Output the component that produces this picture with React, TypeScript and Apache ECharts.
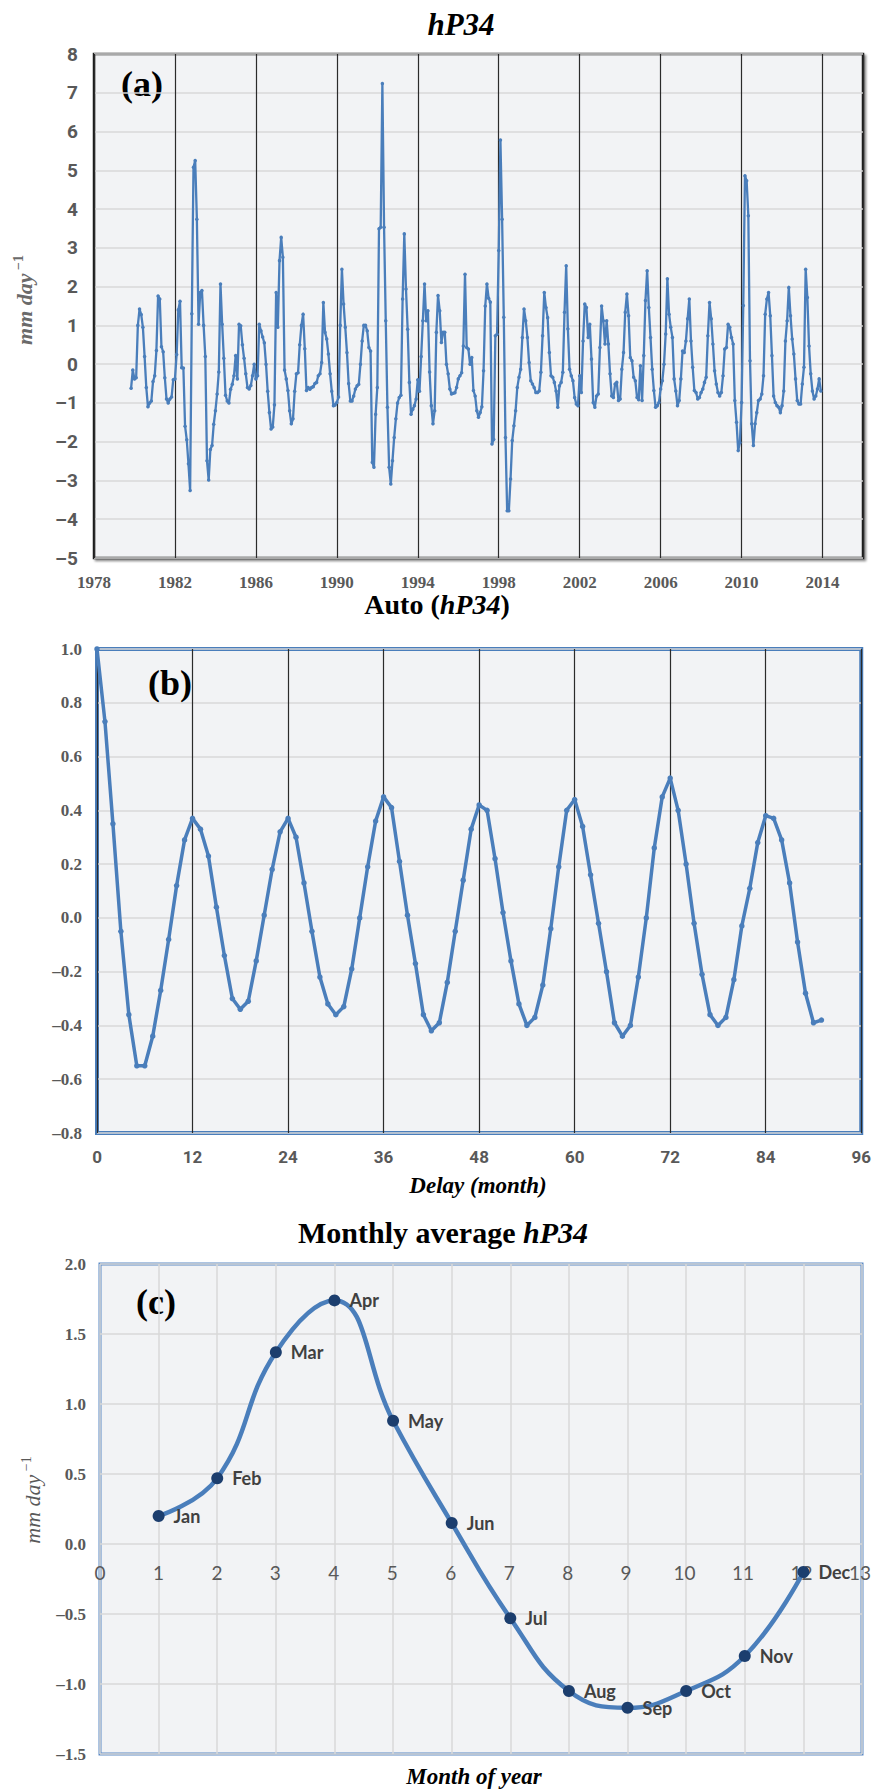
import React, { useEffect, useRef } from 'react';
import * as echarts from 'echarts';

// ---------- DATA ----------
// (a) monthly hP34 anomaly (mm/day), Nov 1979 .. Dec 2013
const hp34StartYear = 1979;
const hp34StartMonth = 11;
const hp34Monthly = [
  -0.62, -0.15, -0.38, -0.35, 1.0, 1.42, 1.28, 0.95, 0.2, -0.6, -1.1, -1.0, -0.95, -0.45, -0.3, 0.35, 1.76, 1.68, 0.45, 0.32, -0.35, -0.9, -1.0, -0.9, -0.85, -0.4, -0.38,
  0.25, 1.4, 1.62, -0.09, -0.1, -1.6, -1.95, -2.57, -3.26, 1.3, 5.08, 5.25, 3.74, 1.03, 1.85, 1.9, 1.0, 0.2, -2.49, -2.99, -2.2, -2.1, -1.55, -1.2, -0.77, -0.2, 2.07, 1.03, 0.15, -0.8, -0.95, -1.0, -0.65, -0.52, -0.3, 0.22, -0.38, 1.03, 0.99, 0.5, 0.15, -0.25, -0.6, -0.64, -0.55, -0.3, 0.0, -0.38,
  -0.3, 1.03, 0.86, 0.7, 0.55, 0.0, -0.7, -1.25, -1.67, -1.62, -1.05, 1.85, 0.95, 2.67, 3.27, 2.76, -0.15, -0.38, -0.68, -1.2, -1.54, -1.41, -0.7, -0.25, -0.22, 0.5, 1.0, 1.29, 0.4, -0.68, -0.6, -0.65, -0.6, -0.58, -0.5, -0.47, -0.3, -0.25, 0.04, 1.59, 0.82, 0.65, 0.26, -0.25, -0.7, -1.07, -1.05, -0.99,
  -0.85, 1.0, 2.45, 1.55, 0.95, 0.3, -0.5, -0.95, -0.95, -0.82, -0.64, -0.56, -0.52, 0.0, 0.6, 1.0, 1.0, 0.86, 0.43, 0.34, -2.53, -2.66, -1.29, -0.6, 3.49, 3.53, 7.24, 3.53, 1.12, -1.11, -2.66, -3.09, -2.49, -1.89, -1.41, -1.0, -0.86, -0.8, 1.68, 3.36, 1.94, 0.9, -0.47, -1.29, -1.16, -1.07, -0.9, -0.4,
  -0.7, 0.2, 1.12, 2.07, 1.12, 1.38, -0.2, -1.07, -1.54, -1.2, 0.82, 1.77, 1.38, 0.56, 0.82, 0.82, 0.0, -0.25, -0.64, -0.77, -0.75, -0.74, -0.6, -0.38, -0.3, -0.22, 0.47, 2.32, 0.43, 0.39, 0.0, 0.17, -0.68, -0.82, -1.2, -1.37, -1.25, -1.1, -0.17, 1.5, 2.07, 1.7, 1.6, -2.06, -1.94, 0.73, 0.77, 2.93,
  5.78, 3.74, 1.21, -1.89, -3.78, -3.78, -2.96, -1.97, -1.59, -1.2, -0.6, -0.34, -0.13, 0.69, 1.42, 1.12, 0.69, 0.04, -0.43, -0.51, -0.6, -0.73, -0.73, -0.69, -0.21, 0.73, 1.85, 1.46, 1.2, 0.3, -0.3, -0.34, -0.47, -0.69, -1.11, -0.56, -0.47, -0.21, 1.34, 2.54, 0.91, -0.13, -0.3, -0.43, -0.86, -1.03, -1.07, -0.3,
  -0.73, 0.6, 1.55, 1.46, 0.69, 1.03, 0.13, -0.99, -1.11, -0.82, -0.77, 0.43, 1.5, 1.12, 0.52, 1.12, 0.52, -0.25, -0.82, -0.86, -0.51, -0.47, -0.94, -0.9, -0.13, 0.3, 1.34, 1.81, 1.25, 0.17, 0.09, -0.34, -0.43, -0.86, -0.92, -0.04, -0.94, 0.22, 1.64, 2.41, 1.46, 0.69, -0.13, -0.68, -1.11, -1.07, -0.99, -0.64,
  -0.43, 0.0, 0.78, 2.2, 1.29, 0.95, 0.69, -0.38, -0.69, -1.07, -0.94, -0.38, 0.34, 0.3, 0.6, 1.17, 1.68, 0.6, -0.08, -0.68, -0.73, -0.9, -0.86, -0.73, -0.64, -0.47, -0.34, 0.73, 1.59, 1.17, 0.52, -0.17, -0.51, -0.73, -0.82, -0.73, -0.3, 0.39, 0.43, 1.03, 0.95, 0.69, 0.52, -0.94, -1.5, -2.23, -2.02, -0.99,
  1.51, 4.86, 4.73, 3.83, 0.09, -1.54, -2.1, -1.54, -1.25, -0.94, -0.9, -0.77, -0.3, 1.29, 1.68, 1.85, 1.25, 0.22, -0.82, -0.99, -1.07, -1.11, -1.25, -1.07, -0.69, 0.6, 1.12, 1.98, 1.25, 0.65, 0.26, -0.38, -0.94, -1.03, -1.03, -0.51, -0.08, 2.45, 1.72, 0.47, -0.25, -0.69, -0.9, -0.82, -0.64, -0.38, -0.69,
];

// (b) autocorrelation of hP34, lag 0..91 months
const acfValues = [
  1.0, 0.73, 0.35, -0.05, -0.36, -0.55, -0.55, -0.44, -0.27, -0.08, 0.12, 0.29,
  0.37, 0.33, 0.23, 0.04, -0.14, -0.3, -0.34, -0.31, -0.16, 0.01, 0.18, 0.32,
  0.37, 0.3, 0.13, -0.05, -0.22, -0.32, -0.36, -0.33, -0.19, 0.0, 0.19, 0.36,
  0.45, 0.41, 0.21, 0.01, -0.17, -0.36, -0.42, -0.39, -0.24, -0.05, 0.14, 0.33,
  0.42, 0.4, 0.22, 0.02, -0.16, -0.32, -0.4, -0.37, -0.25, -0.04, 0.19, 0.4,
  0.44, 0.34, 0.16, -0.02, -0.2, -0.39, -0.44, -0.4, -0.22, 0.0, 0.26, 0.45,
  0.52, 0.4, 0.2, -0.02, -0.21, -0.36, -0.4, -0.37, -0.23, -0.03, 0.11, 0.28,
  0.38, 0.37, 0.29, 0.13, -0.09, -0.28, -0.39, -0.38,
];

// (c) monthly average hP34
const monthNumbers = [1, 2, 3, 4, 5, 6, 7, 8, 9, 10, 11, 12];
const monthNames = ['Jan', 'Feb', 'Mar', 'Apr', 'May', 'Jun', 'Jul', 'Aug', 'Sep', 'Oct', 'Nov', 'Dec'];
const monthlyMeans = [0.2, 0.47, 1.37, 1.74, 0.88, 0.15, -0.53, -1.05, -1.17, -1.05, -0.8, -0.2];

// axis ranges
const yearAxis = { min: 1978, max: 2016, step: 4 };
const anomalyAxis = { min: -5, max: 8, step: 1 };
const lagAxis = { min: 0, max: 96, step: 12 };
const acfAxis = { min: -0.8, max: 1.0, step: 0.2 };
const monthAxis = { min: 0, max: 13, step: 1 };
const meanAxis = { min: -1.5, max: 2.0, step: 0.5 };

// ---------- STYLE ----------
const W = 874;
const H = 1791;
const plotBg = '#f2f3f5';
const blue = '#4a7ebb';
const gray = '#595959';
const serif = '"Liberation Serif", "Times New Roman", serif';
const narrow = 'Roboto, "Liberation Sans", sans-serif';
const dash = (v: number, d: number) => {
  const s = d > 0 ? v.toFixed(d) : String(Math.round(v));
  return s.replace('-', '–');
};

const lightGrid = { show: true, lineStyle: { color: '#d9d9d9', width: 1.5 } };
const darkGrid = { show: true, lineStyle: { color: '#2b2b2b', width: 1.2 } };

// plot boxes (pixels)
const boxA = { left: 94, top: 54, width: 769, height: 504 };
const boxB = { left: 97, top: 649, width: 768, height: 484 };
const boxC = { left: 100, top: 1264, width: 762, height: 490 };

function buildOption() {
  const seriesA = hp34Monthly.map((v, i) => [hp34StartYear + (hp34StartMonth - 1 + i) / 12, v]);
  const seriesB = acfValues.map((v, i) => [i, v]);
  const seriesC = monthNumbers.map((m, i) => [m, monthlyMeans[i]]);

  // height of the part of box C above the value 0, so month numbers sit on the zero line
  const zeroFrac = meanAxis.max / (meanAxis.max - meanAxis.min);
  const boxCTop = { left: boxC.left, top: boxC.top, width: boxC.width, height: Math.round(boxC.height * zeroFrac) };

  const ytitle = (x: number, y: number, weight: string, color: string) => ({
    type: 'text',
    x,
    y,
    rotation: Math.PI / 2,
    style: {
      text: '{i|mm day}{s| −1}',
      align: 'center',
      verticalAlign: 'middle',
      rich: {
        i: { fontFamily: serif, fontStyle: 'italic', fontWeight: weight, fontSize: 22, fill: color, lineHeight: 26 },
        s: { fontFamily: serif, fontWeight: weight, fontSize: 14, fill: color, lineHeight: 26, verticalAlign: 'top', padding: [0, 0, 10, 0] },
      },
    },
  });

  return {
    animation: false,
    backgroundColor: '#ffffff',
    grid: [
      {
        ...boxA, show: true, backgroundColor: plotBg,
        borderColor: '#1a1a1a', borderWidth: 2.5,
        shadowColor: 'rgba(0,0,0,0.45)', shadowBlur: 2, shadowOffsetX: 2, shadowOffsetY: 2,
      },
      { ...boxB, show: true, backgroundColor: plotBg, borderColor: blue, borderWidth: 4 },
      { ...boxC, show: true, backgroundColor: plotBg, borderColor: '#5b8ac6', borderWidth: 3 },
      { ...boxCTop, show: false },
    ],
    xAxis: [
      {
        type: 'value', gridIndex: 0, min: yearAxis.min, max: yearAxis.max, interval: yearAxis.step,
        axisLine: { show: false }, axisTick: { show: false }, splitLine: darkGrid,
        axisLabel: { showMaxLabel: false, margin: 16, color: gray, fontFamily: serif, fontWeight: 'bold', fontSize: 17, formatter: (v: number) => String(v) },
      },
      {
        type: 'value', gridIndex: 1, min: lagAxis.min, max: lagAxis.max, interval: lagAxis.step,
        axisLine: { show: false }, axisTick: { show: false }, splitLine: darkGrid,
        axisLabel: { margin: 15, color: gray, fontFamily: narrow, fontWeight: 'bold', fontSize: 17 },
      },
      {
        type: 'value', gridIndex: 2, min: monthAxis.min, max: monthAxis.max, interval: monthAxis.step,
        axisLine: { show: false }, axisTick: { show: false }, splitLine: lightGrid,
        axisLabel: { show: false },
      },
      {
        type: 'value', gridIndex: 3, min: monthAxis.min, max: monthAxis.max, interval: monthAxis.step,
        axisLine: { show: false }, axisTick: { show: false }, splitLine: { show: false },
        axisLabel: { margin: 19, color: gray, fontFamily: 'Lato, "Noto Sans", sans-serif', fontSize: 19 },
      },
    ],
    yAxis: [
      {
        type: 'value', gridIndex: 0, min: anomalyAxis.min, max: anomalyAxis.max, interval: anomalyAxis.step,
        axisLine: { show: false }, axisTick: { show: false }, splitLine: lightGrid,
        axisLabel: { margin: 16, color: gray, fontFamily: narrow, fontWeight: 'bold', fontSize: 19, formatter: (v: number) => dash(v, 0) },
      },
      {
        type: 'value', gridIndex: 1, min: acfAxis.min, max: acfAxis.max, interval: acfAxis.step,
        axisLine: { show: false }, axisTick: { show: false }, splitLine: lightGrid,
        axisLabel: { margin: 15, color: gray, fontFamily: serif, fontWeight: 'bold', fontSize: 17, formatter: (v: number) => dash(v, 1) },
      },
      {
        type: 'value', gridIndex: 2, min: meanAxis.min, max: meanAxis.max, interval: meanAxis.step,
        axisLine: { show: false }, axisTick: { show: false }, splitLine: lightGrid,
        axisLabel: { margin: 14, color: gray, fontFamily: serif, fontWeight: 'bold', fontSize: 17, formatter: (v: number) => dash(v, 1) },
      },
      {
        type: 'value', gridIndex: 3, min: 0, max: meanAxis.max, show: false,
      },
    ],
    series: [
      {
        type: 'line', xAxisIndex: 0, yAxisIndex: 0, data: seriesA,
        symbol: 'circle', symbolSize: 3.5, showSymbol: true,
        lineStyle: { color: blue, width: 2.3 }, itemStyle: { color: blue },
      },
      {
        type: 'line', xAxisIndex: 1, yAxisIndex: 1, data: seriesB,
        symbol: 'circle', symbolSize: 5.5,
        lineStyle: { color: blue, width: 3.5 }, itemStyle: { color: blue },
      },
      {
        type: 'line', xAxisIndex: 2, yAxisIndex: 2, data: seriesC, smooth: 0.45,
        symbol: 'circle', symbolSize: 12,
        lineStyle: { color: blue, width: 4.5 }, itemStyle: { color: '#1c3e6e' },
        label: {
          show: true, position: 'right', distance: 9,
          formatter: (p: any) => monthNames[p.dataIndex],
          color: '#404040', fontFamily: 'Lato, "Noto Sans", sans-serif', fontWeight: 'bold', fontSize: 18,
        },
      },
    ],
    graphic: [
      // titles
      {
        type: 'text', x: 461, y: 24,
        style: { text: 'hP34', font: `italic bold 31px ${serif}`, fill: '#000', align: 'center', verticalAlign: 'middle' },
      },
      {
        type: 'text', x: 437, y: 604,
        style: {
          text: '{a|Auto (}{b|hP34}{a|)}', align: 'center', verticalAlign: 'middle',
          rich: {
            a: { fontFamily: serif, fontWeight: 'bold', fontSize: 28, fill: '#000' },
            b: { fontFamily: serif, fontWeight: 'bold', fontStyle: 'italic', fontSize: 28, fill: '#000' },
          },
        },
      },
      {
        type: 'text', x: 443, y: 1232,
        style: {
          text: '{a|Monthly average }{b|hP34}', align: 'center', verticalAlign: 'middle',
          rich: {
            a: { fontFamily: serif, fontWeight: 'bold', fontSize: 30, fill: '#000' },
            b: { fontFamily: serif, fontWeight: 'bold', fontStyle: 'italic', fontSize: 30, fill: '#000' },
          },
        },
      },
      // panel letters
      { type: 'text', x: 142, y: 84, style: { text: '(a)', font: `bold 36px ${serif}`, fill: '#000', align: 'center', verticalAlign: 'middle' } },
      { type: 'text', x: 170, y: 683, style: { text: '(b)', font: `bold 36px ${serif}`, fill: '#000', align: 'center', verticalAlign: 'middle' } },
      { type: 'text', x: 156, y: 1302, style: { text: '(c)', font: `bold 36px ${serif}`, fill: '#000', align: 'center', verticalAlign: 'middle' } },
      // axis titles
      { type: 'text', x: 478, y: 1185, style: { text: 'Delay (month)', font: `italic bold 23px ${serif}`, fill: '#000', align: 'center', verticalAlign: 'middle' } },
      { type: 'text', x: 474, y: 1776, style: { text: 'Month of year', font: `italic bold 23px ${serif}`, fill: '#000', align: 'center', verticalAlign: 'middle' } },
      ytitle(24, 300, 'bold', '#6a6a6a'),
      ytitle(32, 1500, 'normal', gray),
    ],
  };
}

export default function App() {
  const ref = useRef<HTMLDivElement>(null);
  useEffect(() => {
    if (!ref.current) return;
    const chart = echarts.init(ref.current, null, { renderer: 'svg', width: W, height: H });
    chart.setOption(buildOption() as any);
    return () => chart.dispose();
  }, []);
  return <div ref={ref} style={{ position: 'absolute', left: 0, top: 0, width: W, height: H }} />;
}
